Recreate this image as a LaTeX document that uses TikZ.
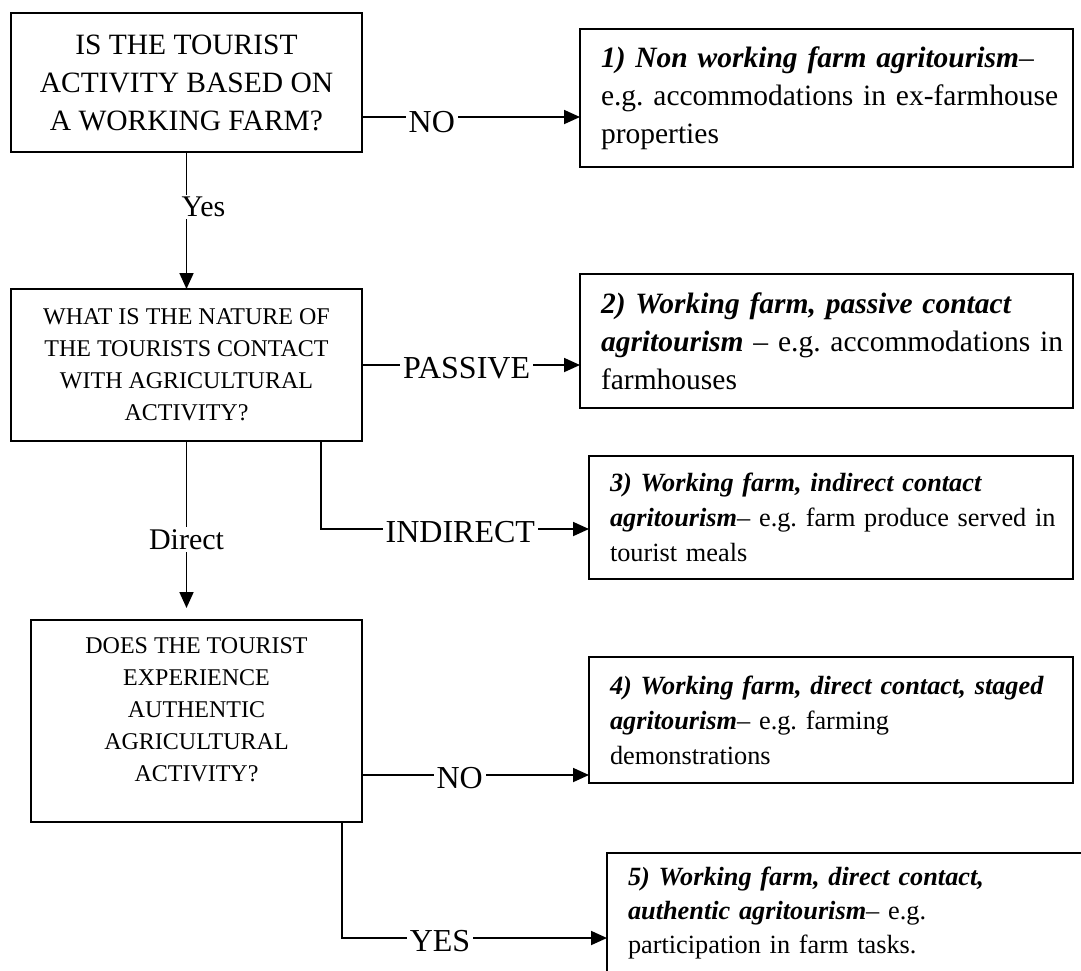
\documentclass[tikz,border=0pt]{standalone}
\usepackage{fontspec}
\setmainfont{Liberation Serif}
\usetikzlibrary{arrows.meta}
\frenchspacing
\newcommand{\bi}[1]{\textbf{\textit{#1}}}
\newcommand{\ml}[1]{\mbox{#1}}
\begin{document}
\begin{tikzpicture}[x=1pt,y=-1pt,
  every node/.style={inner sep=0pt, outer sep=0pt},
  arr/.style={line width=1.8pt, -{Triangle[length=16pt,width=14pt]}},
  qbox/.style={draw, line width=1.8pt, anchor=north west, align=center},
  rbox/.style={draw, line width=1.8pt, anchor=north west, align=left, inner xsep=21pt},
  fbig/.style={font=\fontsize{29.5}{38}\selectfont},
  fmid/.style={font=\fontsize{24}{32}\selectfont},
  fres/.style={font=\fontsize{26.3}{35}\selectfont},
  lbl/.style={fill=white, inner xsep=3pt, inner ysep=2pt, font=\fontsize{32}{36}\selectfont},
  lbls/.style={fill=white, inner xsep=3pt, inner ysep=2pt, font=\fontsize{30}{34}\selectfont},
]
\useasboundingbox (0,0) rectangle (1081,970);
\clip (0,0) rectangle (1081,970);

% questions
\node[qbox, fbig, minimum width=351pt, minimum height=139pt] (Q1) at (11,13)
  {IS THE TOURIST\\ACTIVITY BASED ON\\A WORKING FARM?};
\node[qbox, fmid, minimum width=351pt, minimum height=152pt] (Q2) at (11,289)
  {WHAT IS THE NATURE OF\\THE TOURISTS CONTACT\\WITH AGRICULTURAL\\ACTIVITY?};
\node[qbox, fmid, minimum width=331pt, minimum height=202pt] (Q3) at (31,620)
  {DOES THE TOURIST\\EXPERIENCE\\AUTHENTIC\\AGRICULTURAL\\ACTIVITY?\\[-9pt]\mbox{}};

% results
\node[rbox, fbig, text width=451pt, minimum height=138pt] (R1) at (580,29)
  {\ml{\bi{1) Non working farm agritourism}–}\\\ml{e.g. accommodations in ex-farmhouse}\\\ml{properties}};
\node[rbox, fbig, text width=451pt, minimum height=134pt] (R2) at (580,274)
  {\ml{\bi{2) Working farm, passive contact}}\\\ml{\bi{agritourism} – e.g. accommodations in}\\\ml{farmhouses}};
\node[rbox, fres, text width=442pt, minimum height=123pt] (R3) at (589,456)
  {\ml{\bi{3) Working farm, indirect contact}}\\\ml{\bi{agritourism}– e.g. farm produce served in}\\\ml{tourist meals}};
\node[rbox, fres, text width=442pt, minimum height=126pt] (R4) at (589,657)
  {\ml{\bi{4) Working farm, direct contact, staged}}\\\ml{\bi{agritourism}– e.g. farming}\\\ml{demonstrations}};
\node[rbox, font=\fontsize{26.3}{34}\selectfont, text width=480pt, inner ysep=14pt] (R5) at (607,853)
  {\ml{\bi{5) Working farm, direct contact,}}\\\ml{\bi{authentic agritourism}– e.g.}\\\ml{participation in farm tasks.}};

% helper coordinates
\coordinate (no1) at (0,117);
\coordinate (ind) at (321,529);
\coordinate (no4) at (0,775);
\coordinate (yes) at (342,938);

% connectors
\draw[arr] (Q1.east |- no1) -- node[lbl, pos=0.32, yshift=-5pt] {NO} (R1.west |- no1);
\draw[arr] (Q1.south) -- node[lbls, pos=0.40, xshift=17pt] {Yes} (Q2.north);
\draw[arr] (Q2.east) -- node[lbl, pos=0.48, yshift=-3pt] {PASSIVE} (Q2.east -| R2.west);
\draw[arr] (Q2.south -| ind) |- node[lbl, pos=0.76, yshift=-3pt] {INDIRECT} (R3.west |- ind);
\draw[arr, shorten >=12pt] (Q2.south) -- node[lbls, pos=0.55] {Direct} (Q2.south |- Q3.north);
\draw[arr] (Q3.east |- no4) -- node[lbl, pos=0.43, yshift=-3pt] {NO} (R4.west |- no4);
\draw[arr] (Q3.south -| yes) |- node[lbl, pos=0.685, yshift=-3pt] {YES} (R5.west |- yes);
\end{tikzpicture}
\end{document}
